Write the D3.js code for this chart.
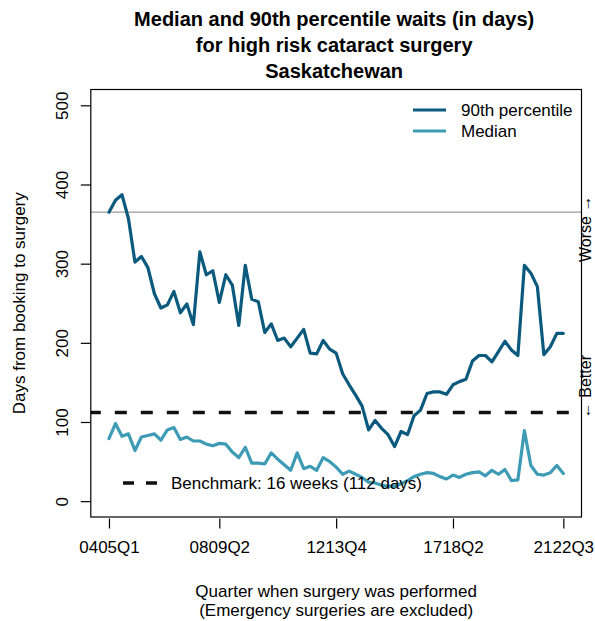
<!DOCTYPE html>
<html>
<head>
<meta charset="utf-8">
<script src="https://cdn.jsdelivr.net/npm/d3@7"></script>
<style>
  html, body { margin: 0; padding: 0; background: #fff; }
  svg { display: block; font-family: "Liberation Sans", Arial, Helvetica, sans-serif; }
</style>
</head>
<body>
<svg id="chart" width="595" height="621"></svg>
<script>
// ---- data ----
const quarters = [
  "0405Q1","0405Q2","0405Q3","0405Q4","0506Q1","0506Q2","0506Q3","0506Q4",
  "0607Q1","0607Q2","0607Q3","0607Q4","0708Q1","0708Q2","0708Q3","0708Q4",
  "0809Q1","0809Q2","0809Q3","0809Q4","0910Q1","0910Q2","0910Q3","0910Q4",
  "1011Q1","1011Q2","1011Q3","1011Q4","1112Q1","1112Q2","1112Q3","1112Q4",
  "1213Q1","1213Q2","1213Q3","1213Q4","1314Q1","1314Q2","1314Q3","1314Q4",
  "1415Q1","1415Q2","1415Q3","1415Q4","1516Q1","1516Q2","1516Q3","1516Q4",
  "1617Q1","1617Q2","1617Q3","1617Q4","1718Q1","1718Q2","1718Q3","1718Q4",
  "1819Q1","1819Q2","1819Q3","1819Q4","1920Q1","1920Q2","1920Q3","1920Q4",
  "2021Q1","2021Q2","2021Q3","2021Q4","2122Q1","2122Q2","2122Q3"
];
const p90 = [
  365,380,387,357,302,309,295,262,244,248,265,238,249,223,315,286,
  291,251,286,273,222,298,255,252,213,224,203,206,195,206,217,187,
  186,203,192,187,161,147,134,120,90,102,92,84,69,88,84,108,
  115,136,138,138,135,147,151,154,177,184,184,176,189,202,191,184,
  298,288,271,185,195,212,212
];
const median = [
  79,98,82,85,64,81,83,85,77,90,93,78,81,76,76,72,
  70,73,72,62,55,68,48,48,47,61,53,46,39,61,41,44,
  39,55,50,43,34,38,34,30,24,23,20,19,19,22,26,31,
  34,36,35,31,28,33,30,34,36,37,32,39,34,40,26,27,
  89,45,34,33,36,45,35
];
const xTickLabels = ["0405Q1","0809Q2","1213Q4","1718Q2","2122Q3"];
const yTicks = [0,100,200,300,400,500];
const benchmark = 112;
const refLine = 365;
const titleLines = ["Median and 90th percentile waits (in days)", "for high risk cataract surgery", "Saskatchewan"];
const seriesNames = ["90th percentile", "Median"];
const colors = ["#0b5a7e", "#3d9bb5"];

// ---- layout ----
const svg = d3.select("#chart");
const L = 90.8, R = 581.5, T = 89.5, B = 517;
const n = quarters.length;
const x = d3.scaleLinear().domain([-0.04*(n-1), (n-1)*1.04]).range([L, R]);
const y = d3.scaleLinear().domain([-20, 520]).range([B, T]);
const cx = (L + R) / 2;
const FS = 17;

// title
svg.append("g").selectAll("text").data(titleLines).join("text")
  .attr("x", cx - 2).attr("y", (d,i) => 26 + i*26)
  .attr("text-anchor", "middle").attr("font-weight", "bold")
  .attr("font-size", 20).text(d => d);

// reference line (365)
svg.append("line").attr("x1", L).attr("x2", R)
  .attr("y1", y(refLine)).attr("y2", y(refLine))
  .attr("stroke", "#999").attr("stroke-width", 1.2);

// benchmark
svg.append("line").attr("x1", L).attr("x2", R)
  .attr("y1", y(benchmark)).attr("y2", y(benchmark))
  .attr("stroke", "#111").attr("stroke-width", 3.5)
  .attr("stroke-dasharray", "12,14").attr("stroke-dashoffset", 2);

// series
const line = d3.line().x((d,i) => x(i)).y(d => y(d));
[p90, median].forEach((s, k) => {
  svg.append("path").datum(s).attr("d", line)
    .attr("fill", "none").attr("stroke", colors[k])
    .attr("stroke-width", 3.2).attr("stroke-linejoin", "round").attr("stroke-linecap", "round");
});

// box
svg.append("rect").attr("x", L).attr("y", T).attr("width", R-L).attr("height", B-T)
  .attr("fill", "none").attr("stroke", "#000").attr("stroke-width", 1.2);

// y axis
const yAxis = svg.append("g").attr("transform", `translate(${L},0)`)
  .call(d3.axisLeft(y).tickValues(yTicks).tickSize(10).tickFormat(d3.format("d")));
yAxis.select(".domain").remove();
yAxis.selectAll(".tick line").attr("stroke", "#000").attr("stroke-width", 1.2);
yAxis.selectAll(".tick text")
  .attr("transform", "rotate(-90)").attr("x", 0).attr("y", -23).attr("dy", 0)
  .attr("text-anchor", "middle").attr("font-size", FS).attr("fill", "#000")
  .attr("font-family", null);

// x axis
const tickIdx = xTickLabels.map(l => quarters.indexOf(l));
const xAxis = svg.append("g").attr("transform", `translate(0,${B+1.5})`)
  .call(d3.axisBottom(x).tickValues(tickIdx).tickSize(10).tickFormat(i => quarters[i]));
xAxis.select(".domain").remove();
xAxis.selectAll(".tick line").attr("stroke", "#000").attr("stroke-width", 1.2);
xAxis.selectAll(".tick text").attr("y", 34).attr("dy", 0)
  .attr("font-size", FS).attr("fill", "#000").attr("font-family", null);

// axis titles
svg.append("text").attr("transform", `translate(24.5,${(T+B)/2}) rotate(-90)`)
  .attr("text-anchor", "middle").attr("font-size", FS).text("Days from booking to surgery");
svg.append("text").attr("x", cx).attr("y", 597).attr("text-anchor", "middle")
  .attr("font-size", FS).text("Quarter when surgery was performed");
svg.append("text").attr("x", cx).attr("y", 616).attr("text-anchor", "middle")
  .attr("font-size", FS).text("(Emergency surgeries are excluded)");

// right side annotations
svg.append("text").attr("transform", `translate(591,262) rotate(-90)`)
  .attr("text-anchor", "start").attr("font-size", 16).text("Worse \u2192");
svg.append("text").attr("transform", `translate(591,355) rotate(-90)`)
  .attr("text-anchor", "end").attr("font-size", 16).text("\u2190 Better");

// legend
const leg = svg.append("g");
seriesNames.forEach((nm, k) => {
  const ly = 110 + k*21;
  leg.append("line").attr("x1", 413).attr("x2", 446).attr("y1", ly).attr("y2", ly)
    .attr("stroke", colors[k]).attr("stroke-width", 3.2);
  leg.append("text").attr("x", 461).attr("y", ly + 6).attr("font-size", FS).text(nm);
});

// benchmark legend
svg.append("line").attr("x1", 123).attr("x2", 157).attr("y1", 483).attr("y2", 483)
  .attr("stroke", "#111").attr("stroke-width", 3.5).attr("stroke-dasharray", "11,12");
svg.append("text").attr("x", 171).attr("y", 489).attr("font-size", FS)
  .text(`Benchmark: 16 weeks (${benchmark} days)`);
</script>
</body>
</html>
